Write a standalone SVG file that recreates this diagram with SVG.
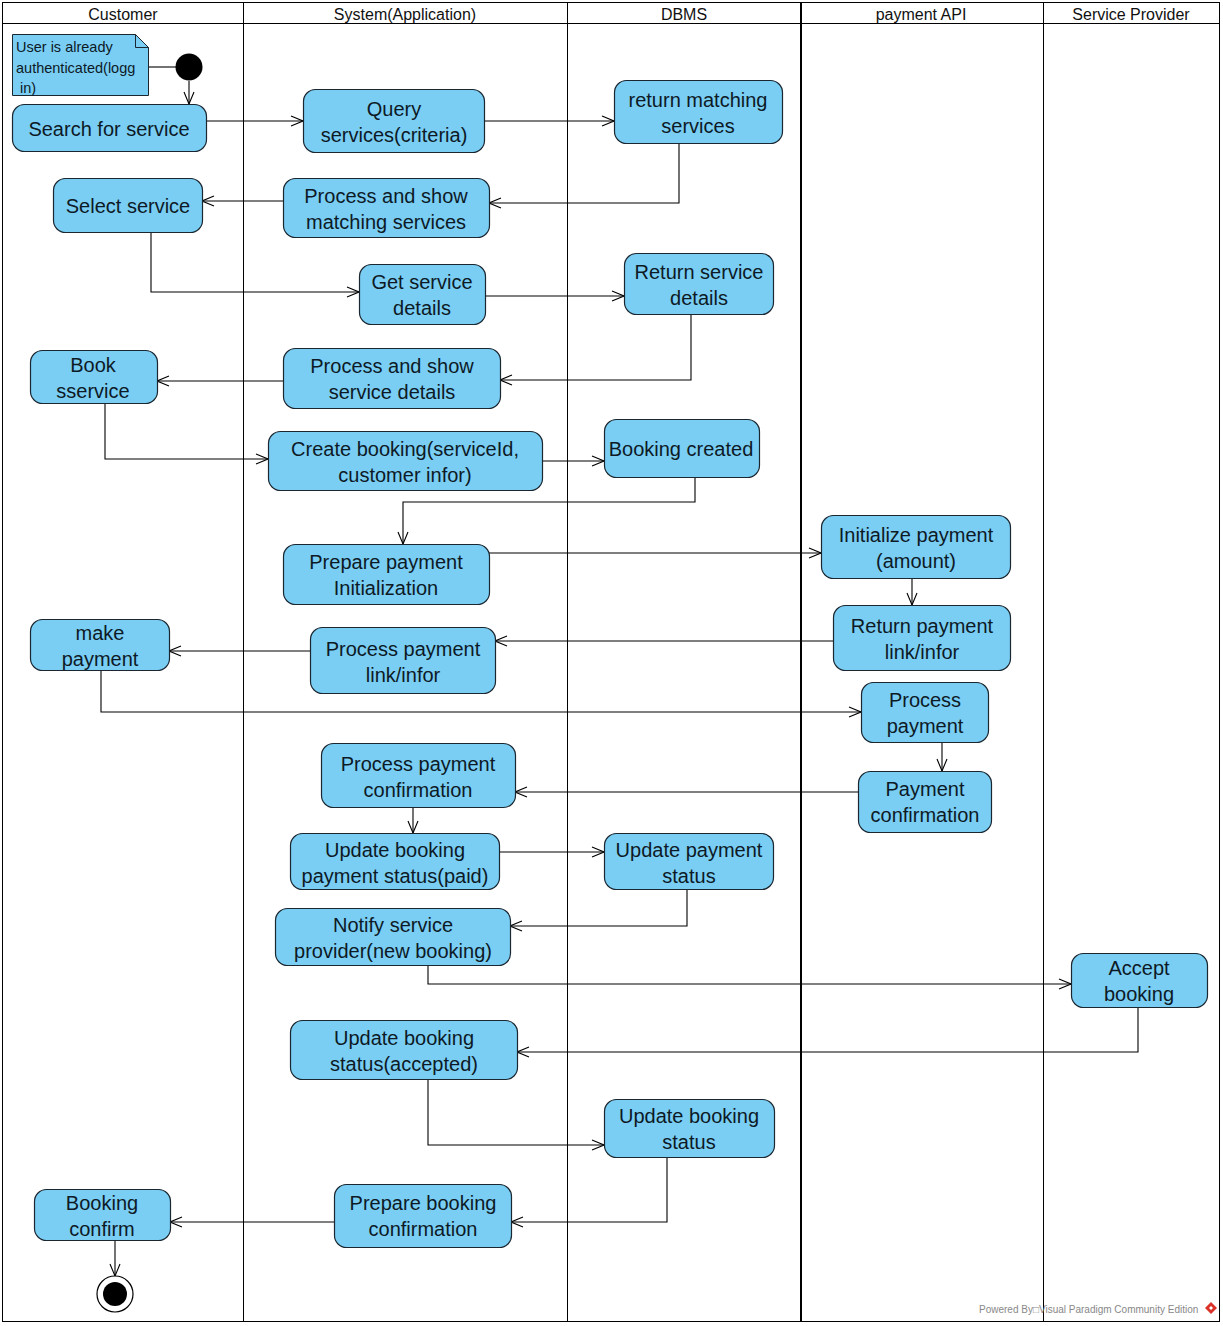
<svg xmlns="http://www.w3.org/2000/svg" width="1223" height="1326" viewBox="0 0 1223 1326">
<style>
.bg{fill:#ffffff}
.lane{fill:none;stroke:#000;stroke-width:1}
.hdr{font-family:"Liberation Sans",Arial,sans-serif;font-size:16px;fill:#111;text-anchor:middle}
.act{fill:#7ACEF4;stroke:#1a2630;stroke-width:1.2}
.t{font-family:"Liberation Sans",Arial,sans-serif;font-size:20px;fill:#0d1a26;text-anchor:middle}
.note{fill:#7ACEF4;stroke:#1a2630;stroke-width:1}
.nt{font-family:"Liberation Sans",Arial,sans-serif;font-size:14.5px;fill:#0d1a26}
.c{fill:none;stroke:#000;stroke-width:1.1;marker-end:url(#arr)}
.wm{font-family:"Liberation Sans",Arial,sans-serif;font-size:10px;fill:#888}
</style>
<defs>
<marker id="arr" markerUnits="userSpaceOnUse" markerWidth="14" markerHeight="12" refX="13" refY="6" orient="auto">
<path d="M1,1 L13,6 L1,11" fill="none" stroke="#000" stroke-width="1.1"/>
</marker>
</defs>
<rect class="bg" x="0" y="0" width="1223" height="1326"/>
<g id="lanes">
<rect class="lane" x="2.5" y="2.5" width="1217" height="1319"/>
<line class="lane" x1="2" y1="23.5" x2="1220" y2="23.5"/>
<line class="lane" x1="243.5" y1="2" x2="243.5" y2="1322"/>
<line class="lane" x1="567.5" y1="2" x2="567.5" y2="1322"/>
<line class="lane" x1="801" y1="2" x2="801" y2="1322" style="stroke-width:2"/>
<line class="lane" x1="1043.5" y1="2" x2="1043.5" y2="1322"/>
<text class="hdr" x="123" y="20">Customer</text>
<text class="hdr" x="405" y="20">System(Application)</text>
<text class="hdr" x="684" y="20">DBMS</text>
<text class="hdr" x="921" y="20">payment API</text>
<text class="hdr" x="1131" y="20">Service Provider</text>
</g>
<g id="connectors">
<line x1="148" y1="67" x2="176" y2="67" stroke="#000" stroke-width="1.1"/>
<path class="c" d="M189,81 V104"/>
<path class="c" d="M206,121 H303"/>
<path class="c" d="M484,121 H614"/>
<path class="c" d="M679,143 V203 H489"/>
<path class="c" d="M283,201 H202"/>
<path class="c" d="M151,232 V292 H359"/>
<path class="c" d="M485,296 H624"/>
<path class="c" d="M691,314 V380 H500"/>
<path class="c" d="M283,381 H157"/>
<path class="c" d="M105,403 V459 H268"/>
<path class="c" d="M542,461 H604"/>
<path class="c" d="M695,477 V502 H403 V544"/>
<path class="c" d="M489,553 H821"/>
<path class="c" d="M912,578 V605"/>
<path class="c" d="M833,641 H495"/>
<path class="c" d="M310,651 H169"/>
<path class="c" d="M101,670 V712 H861"/>
<path class="c" d="M942,742 V771"/>
<path class="c" d="M858,792 H515"/>
<path class="c" d="M413,807 V833"/>
<path class="c" d="M499,852 H604"/>
<path class="c" d="M687,889 V926 H510"/>
<path class="c" d="M428,965 V984 H1071"/>
<path class="c" d="M1138,1007 V1052 H517"/>
<path class="c" d="M428,1079 V1145 H604"/>
<path class="c" d="M667,1157 V1222 H511"/>
<path class="c" d="M334,1222 H170"/>
<path class="c" d="M115,1240 V1276"/>
</g>
<g id="note">
<path class="note" d="M12.5,34.5 H135.5 L148.5,47.5 V95.5 H12.5 Z"/>
<path d="M135.5,34.5 V47.5 H148.5" fill="none" stroke="#1a2630" stroke-width="1"/>
<text class="nt" x="16" y="52">User is already</text>
<text class="nt" x="16" y="73">authenticated(logg</text>
<text class="nt" x="16" y="93" xml:space="preserve"> in)</text>
</g>
<g id="start"><circle cx="189" cy="67" r="13.5" fill="#000"/></g>
<g id="end"><circle cx="115" cy="1294" r="18" fill="#fff" stroke="#000" stroke-width="1.2"/><circle cx="115" cy="1294" r="12" fill="#000"/></g>
<g id="n1"><rect class="act" x="12.5" y="104.5" width="194" height="47" rx="12"/><text class="t" x="109" y="136">Search for service</text></g>
<g id="n2"><rect class="act" x="303.5" y="89.5" width="181" height="63" rx="12"/><text class="t" x="394" y="116">Query</text><text class="t" x="394" y="142">services(criteria)</text></g>
<g id="n3"><rect class="act" x="614.5" y="80.5" width="168" height="63" rx="12"/><text class="t" x="698" y="107">return matching</text><text class="t" x="698" y="133">services</text></g>
<g id="n4"><rect class="act" x="283.5" y="178.5" width="206" height="59" rx="12"/><text class="t" x="386" y="203">Process and show</text><text class="t" x="386" y="229">matching services</text></g>
<g id="n5"><rect class="act" x="53.5" y="178.5" width="149" height="54" rx="12"/><text class="t" x="128" y="213">Select service</text></g>
<g id="n6"><rect class="act" x="359.5" y="264.5" width="126" height="60" rx="12"/><text class="t" x="422" y="289">Get service</text><text class="t" x="422" y="315">details</text></g>
<g id="n7"><rect class="act" x="624.5" y="253.5" width="149" height="61" rx="12"/><text class="t" x="699" y="279">Return service</text><text class="t" x="699" y="305">details</text></g>
<g id="n8"><rect class="act" x="283.5" y="348.5" width="217" height="60" rx="12"/><text class="t" x="392" y="373">Process and show</text><text class="t" x="392" y="399">service details</text></g>
<g id="n9"><rect class="act" x="30.5" y="350.5" width="127" height="53" rx="12"/><text class="t" x="93" y="372">Book</text><text class="t" x="93" y="398">sservice</text></g>
<g id="n10"><rect class="act" x="268.5" y="431.5" width="274" height="59" rx="12"/><text class="t" x="405" y="456">Create booking(serviceId,</text><text class="t" x="405" y="482">customer infor)</text></g>
<g id="n11"><rect class="act" x="604.5" y="419.5" width="155" height="58" rx="12"/><text class="t" x="681" y="456">Booking created</text></g>
<g id="n12"><rect class="act" x="283.5" y="544.5" width="206" height="60" rx="12"/><text class="t" x="386" y="569">Prepare payment</text><text class="t" x="386" y="595">Initialization</text></g>
<g id="n13"><rect class="act" x="821.5" y="515.5" width="189" height="63" rx="12"/><text class="t" x="916" y="542">Initialize payment</text><text class="t" x="916" y="568">(amount)</text></g>
<g id="n14"><rect class="act" x="833.5" y="605.5" width="177" height="65" rx="12"/><text class="t" x="922" y="633">Return payment</text><text class="t" x="922" y="659">link/infor</text></g>
<g id="n15"><rect class="act" x="310.5" y="627.5" width="185" height="66" rx="12"/><text class="t" x="403" y="656">Process payment</text><text class="t" x="403" y="682">link/infor</text></g>
<g id="n16"><rect class="act" x="30.5" y="619.5" width="139" height="51" rx="12"/><text class="t" x="100" y="640">make</text><text class="t" x="100" y="666">payment</text></g>
<g id="n17"><rect class="act" x="861.5" y="682.5" width="127" height="60" rx="12"/><text class="t" x="925" y="707">Process</text><text class="t" x="925" y="733">payment</text></g>
<g id="n18"><rect class="act" x="858.5" y="771.5" width="133" height="61" rx="12"/><text class="t" x="925" y="796">Payment</text><text class="t" x="925" y="822">confirmation</text></g>
<g id="n19"><rect class="act" x="321.5" y="743.5" width="194" height="64" rx="12"/><text class="t" x="418" y="771">Process payment</text><text class="t" x="418" y="797">confirmation</text></g>
<g id="n20"><rect class="act" x="290.5" y="833.5" width="209" height="56" rx="12"/><text class="t" x="395" y="857">Update booking</text><text class="t" x="395" y="883">payment status(paid)</text></g>
<g id="n21"><rect class="act" x="604.5" y="833.5" width="169" height="56" rx="12"/><text class="t" x="689" y="857">Update payment</text><text class="t" x="689" y="883">status</text></g>
<g id="n22"><rect class="act" x="275.5" y="908.5" width="235" height="57" rx="12"/><text class="t" x="393" y="932">Notify service</text><text class="t" x="393" y="958">provider(new booking)</text></g>
<g id="n23"><rect class="act" x="1071.5" y="953.5" width="136" height="54" rx="12"/><text class="t" x="1139" y="975">Accept</text><text class="t" x="1139" y="1001">booking</text></g>
<g id="n24"><rect class="act" x="290.5" y="1020.5" width="227" height="59" rx="12"/><text class="t" x="404" y="1045">Update booking</text><text class="t" x="404" y="1071">status(accepted)</text></g>
<g id="n25"><rect class="act" x="604.5" y="1099.5" width="170" height="58" rx="12"/><text class="t" x="689" y="1123">Update booking</text><text class="t" x="689" y="1149">status</text></g>
<g id="n26"><rect class="act" x="334.5" y="1184.5" width="177" height="63" rx="12"/><text class="t" x="423" y="1210">Prepare booking</text><text class="t" x="423" y="1236">confirmation</text></g>
<g id="n27"><rect class="act" x="34.5" y="1189.5" width="136" height="51" rx="12"/><text class="t" x="102" y="1210">Booking</text><text class="t" x="102" y="1236">confirm</text></g>
<g id="watermark">
<text class="wm" x="979" y="1313">Powered By□Visual Paradigm Community Edition</text>
<path d="M1211,1302 L1217,1308 L1211,1314 L1205,1308 Z" fill="#d9332a"/>
<path d="M1211,1306 L1213,1308 L1211,1310 L1209,1308 Z" fill="#fff"/>
</g>
</svg>
